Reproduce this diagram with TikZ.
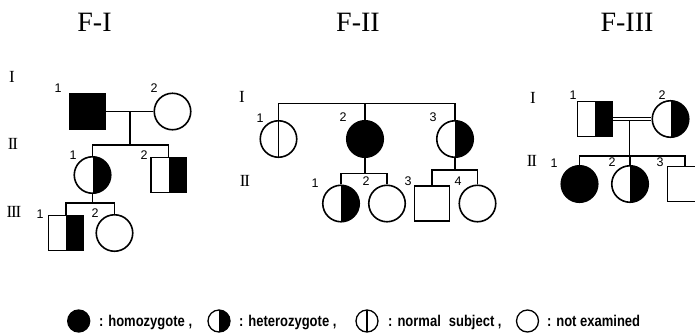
\documentclass[tikz,border=0pt]{standalone}
\usepackage{fontspec}
\usepackage{graphicx}
\setmainfont{Liberation Serif}
\newfontfamily\lsans{Liberation Sans}
\usetikzlibrary{calc}
\newcommand{\tallt}[1]{\scalebox{1}[1.2]{#1}}
\newcommand{\rII}{I\kern-1.2ptI}
\newcommand{\rIII}{I\kern-1.2ptI\kern-1.2ptI}
\begin{document}
\begin{tikzpicture}[x=1pt,y=-1pt,
  ln/.style={line width=1.6pt},
  male/.style={draw,line width=1.6pt,rectangle,minimum size=35pt,inner sep=0pt},
  fem/.style={draw,line width=1.6pt,circle,minimum size=36.5pt,inner sep=0pt},
  aff/.style={fill=black},
  het/.style={path picture={\fill[black] (path picture bounding box.north) rectangle (path picture bounding box.south east);}},
  nrm/.style={path picture={\draw[line width=1.6pt] (path picture bounding box.north) -- (path picture bounding box.south);}},
  num/.style={font=\lsans\fontsize{12.5}{12.5}\selectfont,inner sep=0pt},
  rom/.style={font=\fontsize{17}{17}\selectfont,inner sep=0pt},
  ttl/.style={font=\fontsize{28}{28}\selectfont,inner sep=0pt},
  leg/.style={font=\lsans\bfseries\fontsize{13}{13}\selectfont,inner sep=0pt,anchor=base west},
  lsym/.style={draw,line width=1.3pt,circle,minimum size=22pt,inner sep=0pt}
]
\clip (0,0) rectangle (695,333);
\fill[white] (0,0) rectangle (695,333);

% ---------- F-I ----------
\node[ttl] (t1) at (94.5,22) {F-I};
\node[rom] (r1a) at (12,77) {I};
\node[rom] (r1b) at (13,144) {\rII};
\node[rom] (r1c) at (14,212) {\rIII};
\node[male,aff] (a1) at (87.5,111.5) {};
\node[fem] (a2) at (172.5,111.5) {};
\node[fem,het] (a3) at (92.5,175) {};
\node[male,het] (a4) at (168.5,175) {};
\node[male,het] (a5) at (66,233) {};
\node[fem] (a6) at (114.5,233) {};
\node[num] (na1) at (58,88) {1};
\node[num] (na2) at (154,88) {2};
\node[num] (na3) at (73,155) {1};
\node[num] (na4) at (144,155) {2};
\node[num] (na5) at (40,214) {1};
\node[num] (na6) at (95,213) {2};
\coordinate (am) at (130,111.5);
\coordinate (aj) at (130,145);
\coordinate (aj2) at (90,203);
\draw[ln] (a1) -- (a2);
\draw[ln] (am) -- (aj);
\draw[ln] (a3.north) -- (a3.north |- aj) -- (a4.north |- aj) -- (a4.north);
\draw[ln] (a3.south) -- (a3.south |- aj2);
\draw[ln] (a5.north) -- (a5.north |- aj2) -- (a6.north |- aj2) -- (a6.north);

% ---------- F-II ----------
\node[ttl] (t2) at (358,22) {F-II};
\node[rom] (r2a) at (242,97) {I};
\node[rom] (r2b) at (245,181) {\rII};
\node[fem,nrm] (b1) at (278.5,139) {};
\node[fem,aff] (b2) at (365,139) {};
\node[fem,het] (b3) at (455,139) {};
\node[fem,het] (b4) at (341,203.5) {};
\node[fem] (b5) at (387,203.5) {};
\node[male] (b6) at (432,203.5) {};
\node[fem] (b7) at (477.5,203.5) {};
\node[num] (nb1) at (260,118) {1};
\node[num] (nb2) at (343,117) {2};
\node[num] (nb3) at (433,117) {3};
\node[num] (nb4) at (315,183) {1};
\node[num] (nb5) at (366,181) {2};
\node[num] (nb6) at (408,181) {3};
\node[num] (nb7) at (458,181) {4};
\coordinate (bt) at (0,103.5);
\coordinate (bj1) at (0,173.5);
\coordinate (bj2) at (0,170);
\draw[ln] (b1.north) -- (b1.north |- bt) -- (b3.north |- bt) -- (b3.north);
\draw[ln] (b2.north) -- (b2.north |- bt);
\draw[ln] (b2.south) -- (b2.south |- bj1);
\draw[ln] (b4.north) -- (b4.north |- bj1) -- (b5.north |- bj1) -- (b5.north);
\draw[ln] (b3.south) -- (b3.south |- bj2);
\draw[ln] (b6.north) -- (b6.north |- bj2) -- (b7.north |- bj2) -- (b7.north);

% ---------- F-III ----------
\node[ttl] (t3) at (627,22) {F-III};
\node[rom] (r3a) at (533,98) {I};
\node[rom] (r3b) at (532,161) {\rII};
\node[male,het] (c1) at (595,119) {};
\node[fem,het] (c2) at (670.5,119) {};
\node[fem,aff] (c3) at (579.5,184) {};
\node[fem,het] (c4) at (630,184) {};
\node[male] (c5) at (685,184) {};
\node[num] (nc1) at (573,95) {1};
\node[num] (nc2) at (662,95) {2};
\node[num] (nc3) at (554,163) {1};
\node[num] (nc4) at (612,162) {2};
\node[num] (nc5) at (660,162) {3};
\coordinate (cm) at (629.5,120.5);
\coordinate (cj) at (0,156);
\draw[line width=1.1pt,double,double distance=1.6pt] (c1) -- (c2);
\draw[ln] (cm) -- (cm |- cj);
\draw[ln] (c3.north) -- (c3.north |- cj) -- (c5.north |- cj) -- (c5.north);
\draw[ln] (c4.north) -- (c4.north |- cj);

% ---------- legend ----------
\node[lsym,fill=black] (l1) at (78.7,321) {};
\node[leg] (lt1) at (99,326) {\tallt{: homozygote ,}};
\node[lsym,het] (l2) at (219,321) {};
\node[leg] (lt2) at (239,326) {\tallt{: heterozygote ,}};
\node[lsym,nrm] (l3) at (367,321) {};
\node[leg] (lt3) at (388,326) {\tallt{:\hspace{5pt}normal\hspace{8pt}subject ,}};
\node[lsym] (l4) at (527.5,321) {};
\node[leg] (lt4) at (547,326) {\tallt{: not examined}};
\end{tikzpicture}
\end{document}
